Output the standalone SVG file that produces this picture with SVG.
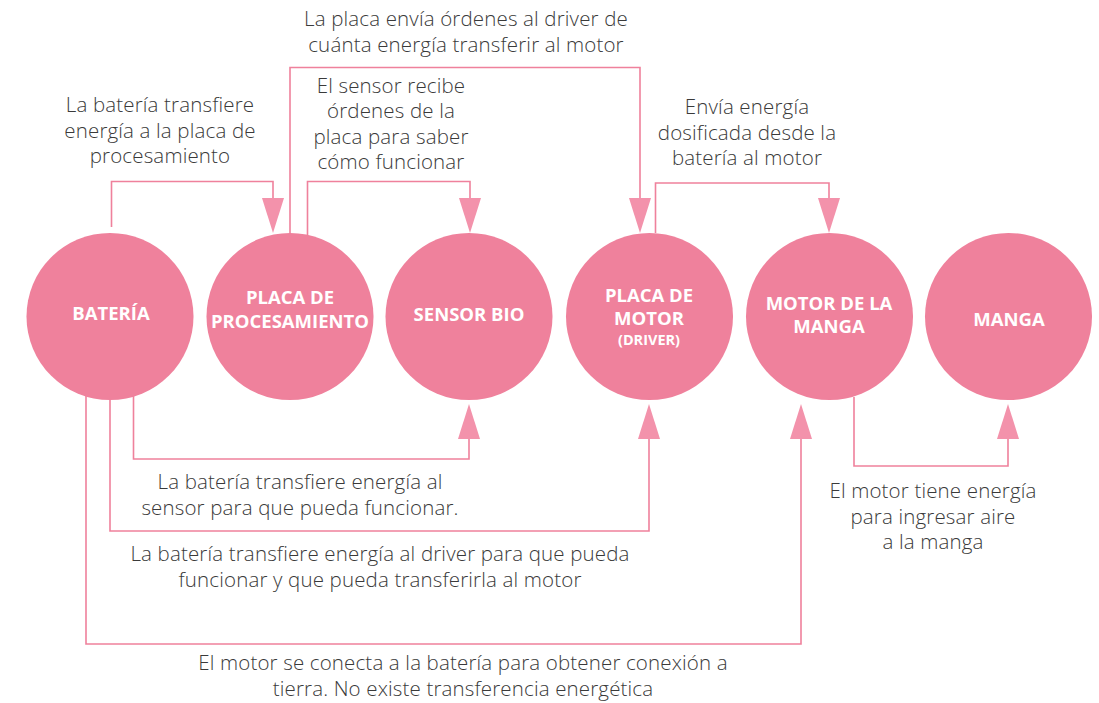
<svg xmlns="http://www.w3.org/2000/svg" width="1099" height="703" viewBox="0 0 1099 703">
<style>
.node{fill:#EF819C}
.nt{font-family:"Open Sans","Liberation Sans",sans-serif;font-weight:700;font-size:18.5px;fill:#fff;text-anchor:middle}
.nts{font-family:"Open Sans","Liberation Sans",sans-serif;font-weight:700;font-size:14.5px;fill:#fff;text-anchor:middle}
.lbl{font-family:"Open Sans","Liberation Sans",sans-serif;font-weight:300;font-size:20.5px;letter-spacing:0.15px;fill:#3a3a3a;text-anchor:middle}
.ln{fill:none;stroke:#EF819C;stroke-width:1.6}
.ah{fill:#F392AB}
</style>
<rect width="1099" height="703" fill="#fff"/>
<g id="connectors">
  <path class="ln" d="M111.5,227 V181.5 H273 V200"/>
  <polygon class="ah" points="262,198 284,198 273,233"/>
  <path class="ln" d="M290,233 V67.5 H640 V200"/>
  <polygon class="ah" points="629,198 651,198 640,233"/>
  <path class="ln" d="M307.5,235 V181.5 H470 V200"/>
  <polygon class="ah" points="459,198 481,198 470,233"/>
  <path class="ln" d="M655.5,233 V183 H829 V200"/>
  <polygon class="ah" points="818,198 840,198 829,233"/>
  <path class="ln" d="M133.5,396 V459 H469 V437"/>
  <polygon class="ah" points="458,439 480,439 469,404"/>
  <path class="ln" d="M110,400 V531 H649 V437"/>
  <polygon class="ah" points="638,439 660,439 649,404"/>
  <path class="ln" d="M86,396 V644 H801 V437"/>
  <polygon class="ah" points="790,439 812,439 801,404"/>
  <path class="ln" d="M854,397 V466 H1008 V437"/>
  <polygon class="ah" points="997,439 1019,439 1008,404"/>
</g>
<g id="bateria"><circle class="node" cx="110" cy="316.5" r="83.5"/><text class="nt" x="111" y="320">BATERÍA</text></g>
<g id="placa-procesamiento"><circle class="node" cx="290" cy="316.5" r="83.5"/><text class="nt" x="290" y="304">PLACA DE</text><text class="nt" x="290" y="328">PROCESAMIENTO</text></g>
<g id="sensor-bio"><circle class="node" cx="469" cy="316.5" r="83.5"/><text class="nt" x="469" y="321">SENSOR BIO</text></g>
<g id="placa-motor"><circle class="node" cx="649.5" cy="316.5" r="83.5"/><text class="nt" x="649" y="302">PLACA DE</text><text class="nt" x="649" y="325">MOTOR</text><text class="nts" x="649" y="345">(DRIVER)</text></g>
<g id="motor-manga"><circle class="node" cx="829.5" cy="316.5" r="83.5"/><text class="nt" x="829" y="310">MOTOR DE LA</text><text class="nt" x="829" y="333">MANGA</text></g>
<g id="manga"><circle class="node" cx="1008.5" cy="316.5" r="83.5"/><text class="nt" x="1009" y="326">MANGA</text></g>
<g id="labels">
  <text class="lbl" x="466" y="26">La placa envía órdenes al driver de</text>
  <text class="lbl" x="466" y="51.5">cuánta energía transferir al motor</text>
  <text class="lbl" x="160" y="112">La batería transfiere</text>
  <text class="lbl" x="160" y="137.5">energía a la placa de</text>
  <text class="lbl" x="160" y="163">procesamiento</text>
  <text class="lbl" x="391" y="92.5">El sensor recibe</text>
  <text class="lbl" x="391" y="118">órdenes de la</text>
  <text class="lbl" x="391" y="143.5">placa para saber</text>
  <text class="lbl" x="391" y="169">cómo funcionar</text>
  <text class="lbl" x="747" y="114">Envía energía</text>
  <text class="lbl" x="747" y="139.5">dosificada desde la</text>
  <text class="lbl" x="747" y="165">batería al motor</text>
  <text class="lbl" x="300" y="489">La batería transfiere energía al</text>
  <text class="lbl" x="300" y="515">sensor para que pueda funcionar.</text>
  <text class="lbl" x="380" y="561">La batería transfiere energía al driver para que pueda</text>
  <text class="lbl" x="380" y="587">funcionar y que pueda transferirla al motor</text>
  <text class="lbl" x="463" y="670">El motor se conecta a la batería para obtener conexión a</text>
  <text class="lbl" x="463" y="695.5">tierra. No existe transferencia energética</text>
  <text class="lbl" x="933" y="498">El motor tiene energía</text>
  <text class="lbl" x="933" y="523.5">para ingresar aire</text>
  <text class="lbl" x="933" y="549">a la manga</text>
</g>
</svg>
